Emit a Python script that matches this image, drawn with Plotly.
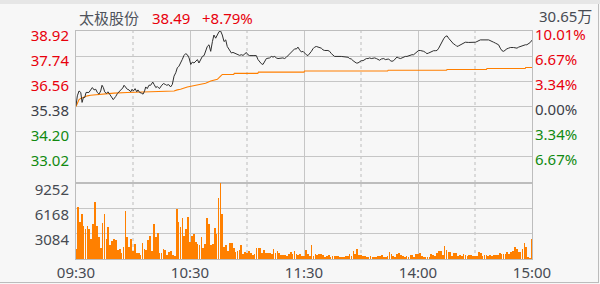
import plotly.graph_objects as go
from plotly.subplots import make_subplots

# ---------------- data ----------------
stock_name = "太极股份"
last_price = "38.49"
change_pct = "+8.79%"
total_volume = "30.65万"

price_ticks = [38.92, 37.74, 36.56, 35.38, 34.20, 33.02]
price_tick_text = ["38.92", "37.74", "36.56", "35.38", "34.20", "33.02"]
pct_tick_text = ["10.01%", "6.67%", "3.34%", "0.00%", "3.34%", "6.67%"]
tick_colors = ["#e8000c", "#e8000c", "#e8000c", "#3c4048", "#118a11", "#118a11"]

vol_ticks = [3084, 6168, 9252]
vol_tick_text = ["3084", "6168", "9252"]

time_ticks = [0, 60, 120, 180, 240]
time_labels = ["09:30", "10:30", "11:30", "14:00", "15:00"]
half_hours = [30, 90, 150, 210]

price_min = [0, 0.7, 1.6, 2.5, 3.2, 3.9, 4.6, 5.3, 6.8, 7.7, 8.6, 9.5, 10.4, 11.2, 12.1, 13, 13.7, 14.4,
             15.1, 16, 16.8, 17.7, 18.6, 19.6, 20.9, 21.8, 23.5, 24.6, 25.3, 26.1, 27, 27.9, 28.8, 29.5,
             30.2, 31.1, 32, 32.6, 33.5, 34.4, 35.3, 36.1, 36.7, 37.5, 38.4, 39.3, 40.4, 41.1, 42, 42.8,
             43.9, 44.9, 46, 47, 47.7, 48.8, 49.8, 50.7, 51.6, 52.5, 53.3, 54.2, 55, 55.9, 56.8, 57.7,
             58.6, 59.5, 60.4, 61.2, 62.1, 63, 63.9, 64.7, 65.6, 66.5, 67.4, 68.2, 69.1, 70, 70.9, 71.8,
             72.6, 73.5, 74.4, 75.3, 76.1, 77, 77.9, 78.8, 79.6, 80.5,
             80.9, 81.8, 82.6, 83.5, 84.4, 85.3, 86.1, 87, 87.9, 88.8, 89.6, 90.5, 91.4, 93.2, 94.9, 95.8,
             96.7, 97.5, 98.4, 99.3, 100.2, 101.9, 102.8, 103.7, 104.6, 105.4, 106.3, 108.9, 109.8, 110.7,
             111.6, 112.5, 113.3, 114.2, 115.1, 116, 116.8, 117.7, 118.6, 119.5, 120.4, 121.2, 122.1, 123,
             123.9, 124.7, 125.6, 126.5, 127.4, 128.2, 129.1, 130, 130.9, 132.6, 133.5, 134.4, 135.3,
             136.1, 139.6, 141.4, 142.3, 143.2, 144, 144.9, 145.8, 146.7, 147.5, 148.4, 149.3, 150.2,
             151.1, 151.9, 152.8, 153.7, 154.6, 155.4, 156.3, 157.2, 158.1, 158.9, 159.8, 160.7, 161.6,
             162, 162.8, 163.7, 164.6, 165.4, 166.3, 167.2, 168.1, 168.9, 169.8, 170.7, 171.6, 172.5,
             173.3, 174.2, 175.1, 176, 176.8, 177.7, 178.6, 179.5, 180.3, 181.2, 182.1, 183, 183.9, 184.7,
             185.6, 186.5, 187.4, 188.2, 189.1, 190, 190.9, 191.7, 192.6, 193.5, 194.4, 195.3, 196.1, 197,
             197.9, 198.8, 199.6, 200.5, 201.4, 202.3, 203.1, 204, 204.9, 206.7, 208.4, 210.2, 211, 211.9,
             212.8, 217.2, 218.1, 218.9, 219.8, 220.7, 221.6, 222.4, 223.3, 224.2, 225.1, 225.9, 226.8,
             227.7, 228.6, 230.3, 231.2, 232.1, 233, 233.8, 234.7, 235.6, 236.5, 237.3, 238.2, 239.1, 240]
price_val = [35.40, 35.86, 36.09, 36.02, 35.55, 35.78, 35.78, 36.02, 36.02, 36.17, 36.25, 36.14, 36.17,
             36.02, 35.94, 36.09, 36.36, 36.25, 36.05, 35.97, 36.05, 35.94, 35.81, 35.68, 35.83, 35.97,
             36.13, 36.23, 36.36, 36.25, 36.17, 36.14, 36.05, 36.17, 36.09, 36.20, 36.05, 36.14, 36.02,
             35.99, 35.94, 36.09, 36.28, 36.20, 36.36, 36.36, 36.51, 36.40, 36.25, 36.30, 36.20, 36.33,
             36.44, 36.40, 36.36, 36.39, 36.28, 36.40, 36.79, 36.95, 37.18, 37.26, 37.38, 37.57, 37.76,
             37.85, 37.80, 37.65, 37.34, 37.45, 37.41, 37.49, 37.57, 37.41, 37.57, 37.72, 37.76, 37.96,
             38.19, 38.27, 37.96, 38.42, 38.73, 38.58, 38.78, 38.89, 38.92, 38.73, 38.42, 38.50, 38.19,
             38.07,
             37.96, 37.88, 37.91, 37.88, 37.83, 37.80, 37.77, 37.80, 37.77, 37.83, 37.91, 37.80, 37.76,
             37.76, 37.76, 37.57, 37.45, 37.38, 37.34, 37.49, 37.62, 37.65, 37.72, 37.69, 37.72, 37.65,
             37.62, 37.65, 37.62, 37.68, 37.77, 37.85, 37.91, 38.00, 38.08, 38.07, 38.16, 38.03, 37.93,
             37.96, 37.85, 37.80, 37.76, 37.85, 37.96, 38.08, 38.16, 38.19, 38.16, 38.14, 38.11, 38.03,
             38.00, 38.00, 37.96, 37.85, 37.77, 37.72, 37.72, 37.71, 37.72, 37.68, 37.62, 37.60, 37.52,
             37.46, 37.41, 37.41, 37.49, 37.52, 37.52, 37.57, 37.62, 37.62, 37.65, 37.62, 37.65, 37.65,
             37.62, 37.57, 37.54, 37.60, 37.60,
             37.62, 37.57, 37.57, 37.60, 37.52, 37.49, 37.52, 37.62, 37.69, 37.65, 37.62, 37.65, 37.69,
             37.72, 37.72, 37.76, 37.77, 37.80, 37.80, 37.88, 37.96, 38.00, 38.00, 37.99, 37.96, 37.91,
             37.85, 37.88, 37.93, 37.96, 37.99, 37.99, 38.00, 38.11, 38.27, 38.42, 38.55, 38.66, 38.69,
             38.58, 38.47, 38.38, 38.30, 38.27, 38.19, 38.22, 38.27, 38.31, 38.35, 38.39, 38.38, 38.38,
             38.39, 38.42, 38.47, 38.50, 38.50, 38.47, 38.45, 38.39, 38.35, 38.31, 38.27, 38.11, 37.99,
             37.96, 38.03, 38.08, 38.11, 38.14, 38.14, 38.11, 38.11, 38.16, 38.19, 38.22, 38.22, 38.27,
             38.27, 38.31, 38.38, 38.49]

avg_min = [0, 0.7, 1.6, 2.5, 4.2, 6, 7.7, 9.5, 13, 16.5, 20, 27, 30.5, 37.5, 48, 51.6, 53.3, 55, 58.6,
           62, 65.6, 68.2, 70.9, 72.6, 74.4, 76.1, 77, 83, 83.3, 95.7, 96, 120, 120.3, 164, 164.3, 195,
           195.3, 216, 216.3, 236.4, 236.7, 240]
avg_val = [35.35, 35.52, 35.68, 35.74, 35.81, 35.86, 35.89, 35.91, 35.94, 35.97, 35.99, 36.02, 36.03,
           36.05, 36.06, 36.09, 36.14, 36.17, 36.28, 36.33, 36.39, 36.45, 36.56, 36.59, 36.64, 36.79,
           36.87, 36.87, 36.92, 36.92, 36.98, 36.98, 37.03, 37.03, 37.07, 37.07, 37.10, 37.10, 37.15,
           37.15, 37.20, 37.20]

volume = [
    1270, 6330, 4480, 5460, 4070, 3660, 3980, 3610, 2500, 4230,
    6940, 3980, 2630, 1390, 4350, 5460, 2500, 3860, 1760, 2260,
    2500, 2380, 1150, 1270, 780, 1520, 5830, 2630, 1520, 2500,
    940, 1890, 780, 780, 530, 2010, 1270, 1150, 2380, 2870,
    1020, 4230, 2750, 3120, 780, 780, 1270, 1150, 530, 900,
    1020, 530, 410, 6080, 4480, 3860, 4970, 2870, 3610, 5090,
    2130, 2870, 3000, 2130, 1890, 1760, 2750, 1390, 1890, 4970,
    4230, 1760, 1890, 3740, 3000, 7440, 9250, 5460, 1520, 1760,
    1020,
    2010, 2010, 1390, 900, 1020, 1150, 1760, 650, 900, 780,
    1020, 780, 530, 650, 1390, 1390, 1390, 780, 1150, 780,
    780, 780, 650, 1270, 780, 1020, 780, 530, 530, 530,
    410, 650, 900, 650, 1020, 650, 530, 650, 410, 410,
    1150, 650, 410, 1760, 410, 650, 530, 650, 650, 530,
    280, 410, 530, 280, 410, 410, 410, 410, 280, 280,
    160, 410, 410, 650, 410, 1020, 650, 1270, 530, 530,
    410, 410, 160, 280, 410, 280, 280, 280, 410, 410,
    530,
    280, 280, 410, 900, 650, 410, 280, 650, 780, 530,
    410, 160, 410, 280, 530, 530, 280, 650, 650, 780,
    410, 160, 160, 280, 280, 650, 530, 410, 780, 1020,
    1020, 530, 1640, 1150, 900, 900, 410, 780, 780, 410,
    530, 410, 650, 530, 410, 530, 530, 410, 410, 410,
    900, 780, 410, 530, 530, 410, 530, 410, 530, 530,
    530, 780, 650, 650, 650, 900, 650, 900, 1020, 1520,
    1270, 900, 900, 1270, 2010, 1520, 160, 40, 2500,
]
vol_minutes = list(range(len(volume)))

# ---------------- figure ----------------
FONT = "Noto Sans, Noto Sans CJK SC, sans-serif"
GRID = "#c6c6c6"
BG = "#f7f7f7"

fig = make_subplots(rows=2, cols=1, shared_xaxes=True, vertical_spacing=0,
                    specs=[[{"secondary_y": True}], [{}]])

fig.add_trace(go.Scatter(x=avg_min, y=avg_val, mode="lines",
                         line=dict(color="#ff7f00", width=1.1), hoverinfo="skip"),
              row=1, col=1)
fig.add_trace(go.Scatter(x=price_min, y=price_val, mode="lines",
                         line=dict(color="#2f2f2f", width=1), hoverinfo="skip"),
              row=1, col=1)
fig.add_trace(go.Scatter(x=[0, 240], y=[price_ticks[-1], price_ticks[0]], mode="markers",
                         marker=dict(opacity=0), hoverinfo="skip"),
              row=1, col=1, secondary_y=True)
fig.add_trace(go.Bar(x=vol_minutes, y=volume, width=0.42,
                     marker=dict(color="#ff8000", line=dict(width=0)), hoverinfo="skip"),
              row=2, col=1)

prange = [31.746, 38.92]

def colored(texts):
    return [f"<span style='color:{c}'>{t}</span>" for t, c in zip(texts, tick_colors)]

xcommon = dict(domain=[0, 1], range=[0, 240], tickmode="array", tickvals=time_ticks,
               showgrid=True, gridcolor=GRID, gridwidth=1, automargin=False,
               zeroline=False, showline=True, linecolor="#bdbdbd", mirror=True, ticks="")
fig.update_layout(
    xaxis=dict(**xcommon, showticklabels=False),
    xaxis2=dict(**xcommon, ticktext=time_labels, showticklabels=True,
                tickfont=dict(family=FONT, size=15, color="#474b52")),
    yaxis=dict(domain=[0.3333, 1], range=prange, tickmode="array", tickvals=price_ticks,
               ticktext=colored(price_tick_text), showgrid=True, gridcolor=GRID,
               zeroline=False, showline=True, linecolor="#bdbdbd", mirror=True, ticks="",
               ticklabelshift=5, ticklabelstandoff=3, automargin=False,
               tickfont=dict(family=FONT, size=15)),
    yaxis2=dict(range=prange, tickmode="array", tickvals=price_ticks, ticktext=colored(pct_tick_text),
                showgrid=False, zeroline=False, showline=False, ticks="", side="right",
                ticklabelshift=4, ticklabelstandoff=2, automargin=False,
                tickfont=dict(family=FONT, size=15)),
    yaxis3=dict(domain=[0, 0.3333], range=[0, 9290], tickmode="array", tickvals=vol_ticks,
                ticktext=vol_tick_text, showgrid=True, gridcolor=GRID, zeroline=False, showline=True,
                linecolor="#bdbdbd", mirror=True, ticks="", ticklabelshift=6,
                ticklabelstandoff=3, automargin=False,
                tickfont=dict(family=FONT, size=15, color="#474b52")),
    width=600, height=284,
    margin=dict(l=76, r=68, t=31, b=25, autoexpand=False),
    paper_bgcolor=BG, plot_bgcolor=BG,
    showlegend=False, bargap=0,
    font=dict(family=FONT),
)

# dotted half-hour gridlines in both panels
for hh in half_hours:
    for xr, yr in (("x", "y domain"), ("x2", "y3 domain")):
        fig.add_shape(type="line", xref=xr, yref=yr, x0=hh, x1=hh, y0=0, y1=1, layer="below",
                      line=dict(color="#bdbdbd", width=1, dash="dot"))

W, H = 456.0, 228.0
def px(x):
    return (x - 76) / W
def py(y):
    return (259 - y) / H

fig.add_annotation(x=px(77), y=py(18), xref="paper", yref="paper", xanchor="left", yanchor="middle",
                   text=stock_name, showarrow=False, font=dict(family=FONT, size=15, color="#50545c"))
fig.add_annotation(x=px(150), y=py(18), xref="paper", yref="paper", xanchor="left", yanchor="middle",
                   text=last_price, showarrow=False, font=dict(family=FONT, size=15, color="#e8000c"))
fig.add_annotation(x=px(200), y=py(18), xref="paper", yref="paper", xanchor="left", yanchor="middle",
                   text=change_pct, showarrow=False, font=dict(family=FONT, size=15, color="#e8000c"))
fig.add_annotation(x=px(537), y=py(16), xref="paper", yref="paper", xanchor="left", yanchor="middle",
                   text=total_volume, showarrow=False, font=dict(family=FONT, size=15, color="#474b52"))

# window chrome
fig.add_shape(type="rect", xref="paper", yref="paper", x0=px(0), x1=px(600), y0=py(4), y1=py(0),
              fillcolor="#e6e6e6", line=dict(width=0), layer="below")
fig.add_shape(type="line", xref="paper", yref="paper", x0=px(598.5), x1=px(598.5), y0=py(283), y1=py(4),
              line=dict(color="#bcbcbc", width=1))
fig.add_shape(type="line", xref="paper", yref="paper", x0=px(0), x1=px(599), y0=py(282.5), y1=py(282.5),
              line=dict(color="#bcbcbc", width=1))

fig.write_html("out.html")
